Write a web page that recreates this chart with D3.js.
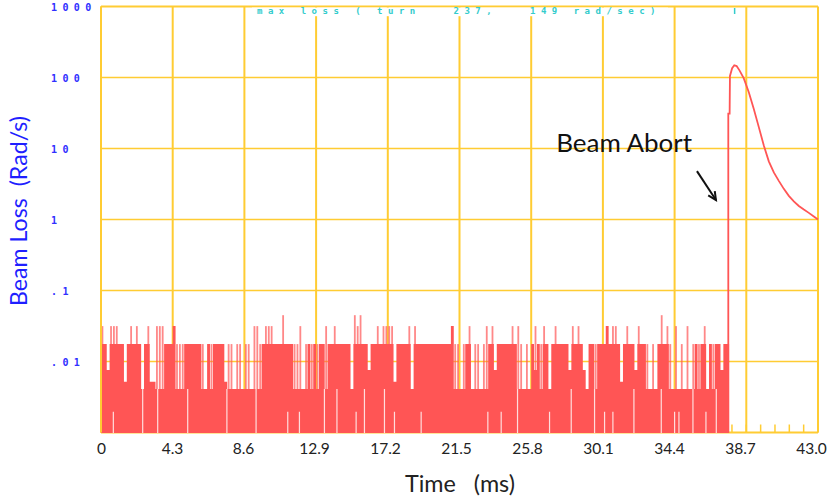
<!DOCTYPE html>
<html>
<head>
<meta charset="utf-8">
<script src="https://cdn.jsdelivr.net/npm/d3@7"></script>
<style>
  body { margin: 0; background: #fff; }
  svg { display: block; }
</style>
</head>
<body>
<script>
var svgWidth = 831;
var svgHeight = 497;

// plot frame in pixels
var frame = { left: 101, right: 818, top: 6.5, bottom: 432.5 };

// ---- data ----
var xTickLabels = [0, 4.3, 8.6, 12.9, 17.2, 21.5, 25.8, 30.1, 34.4, 38.7, 43.0];
var yTickValues = [1000, 100, 10, 1, 0.1, 0.01];
var yTickLabels = ["1000", "100", "10", "1", ".1", ".01"];

// quantised loss levels (rad/s), index 0 = nothing
var levelValues = [0, 0.00196, 0.0041, 0.0052, 0.0076, 0.0176, 0.0315, 0.0449];
var binWidthMs = 0.172;

// level index of each bin before the abort
var lossBins = [
  5,5,4,5,5,5,5,5,3,5, 5,5,5,5,2,5,5,3,3,2, 2,2,5,5,5,6,2,2,2,5,
  5,5,5,5,5,2,2,5,2,5, 5,5,5,3,2,2,2,2,2,2, 2,2,2,2,2,2,5,5,5,5,
  5,5,5,5,5,5,5,2,2,2, 2,2,5,2,5,2,5,5,2,5, 5,5,5,5,5,5,5,2,5,5,
  5,5,5,4,5,5,5,5,5,5, 5,5,3,5,5,5,5,5,2,5, 5,5,5,5,5,5,5,5,5,5,
  5,5,6,2,2,2,2,5,5,2, 2,2,2,2,2,5,5,4,5,5, 5,5,5,5,5,2,2,2,2,2,
  5,4,5,2,5,5,2,5,5,5, 5,5,5,4,5,5,5,5,4,2, 5,5,2,5,5,5,6,5,5,5,
  5,3,5,5,5,5,4,5,5,5, 2,2,2,2,5,5,5,5,2,2, 2,2,2,2,2,2,2,5,2,5,
  5,2,5,2,5,5,4,5,5
];

// thin spikes above a bin: [bin, level]
var lossSpikes = [
  [0,6],[3,6],[4,6],[5,6],[10,6],[12,6],[16,6],[19,6],[20,6],[21,6],[26,5],[27,5],[28,5],
  [35,5],[38,5],[44,5],[45,5],[47,5],[48,5],[50,5],[51,5],[53,6],[54,6],[55,5],[57,6],[58,6],[59,6],
  [63,7],[67,5],[68,5],[69,6],[71,5],[73,5],[75,5],[78,6],[81,6],[88,7],[89,6],[90,7],[96,6],[98,6],[99,6],
  [100,6],[101,6],[107,6],[109,6],[123,5],[124,5],[126,5],[128,6],[130,5],[131,5],[133,5],[134,6],[136,6],
  [143,6],[145,6],[146,5],[148,5],[151,6],[153,5],[154,6],[158,6],[164,6],[166,6],[172,5],[178,6],[179,6],
  [183,6],[187,6],[190,5],[192,5],[195,7],[197,6],[198,5],[200,6],[202,5],[204,6],[206,5],
  [208,5],[210,6],[213,5]
];

// thin gaps from the floor: [time ms, level]
var lossNotches = [
  [0.74,1],[2.5,2],[3.4,2],[5.2,2],[7.55,2],[9.3,2],[11.2,1],[11.9,1],[13.4,2],[14.15,2],
  [15.3,1],[15.8,2],[17.0,2],[17.6,1],[19.2,1],[23.2,1],[24.0,1],[24.98,2],[26.9,1],[28.2,2],
  [29.6,2],[30.2,1],[30.7,1],[31.96,2],[33.6,2],[34.4,1],[34.66,1],[35.5,2],[36.28,1],[36.9,2]
];

// loss trace at and after the abort
var abortTimes = [37.62, 37.62, 37.70, 37.72, 37.85, 37.98, 38.12, 38.30, 38.55, 38.85, 39.15, 39.45,
  39.75, 40.05, 40.35, 40.65, 40.95, 41.25, 41.55, 41.85, 42.15, 42.45, 42.75, 43.0];
var abortLoss = [0.001, 31, 31, 105, 135, 149, 145, 125, 97, 62, 36, 20,
  11, 6.6, 4.6, 3.5, 2.7, 2.15, 1.8, 1.55, 1.38, 1.24, 1.1, 1.0];

var peakTime = 38.0;

// ---- scales ----
var x = d3.scaleLinear().domain([0, 43]).range([frame.left, frame.right]);
var xLabel = d3.scaleLinear().domain([0, 43]).range([101, 811]);
var y = d3.scaleLog().domain([0.001, 1000]).range([frame.bottom, frame.top]);

var grid = "#ffcc33";
var red = "#ff5555";
var sans = "Lato, 'Open Sans', sans-serif";

var svg = d3.select("body").append("svg")
  .attr("width", svgWidth)
  .attr("height", svgHeight);

// grid lines
svg.append("g").selectAll("line")
  .data(xTickLabels)
  .enter().append("line")
  .attr("x1", function (d) { return x(d); })
  .attr("x2", function (d) { return x(d); })
  .attr("y1", frame.top)
  .attr("y2", frame.bottom)
  .attr("stroke", grid)
  .attr("stroke-width", 2);

svg.append("g").selectAll("line")
  .data(yTickValues)
  .enter().append("line")
  .attr("x1", frame.left)
  .attr("x2", frame.right)
  .attr("y1", function (d) { return y(d); })
  .attr("y2", function (d) { return y(d); })
  .attr("stroke", grid)
  .attr("stroke-width", function (d) { return d === 1000 ? 2 : 1.5; });

// bottom line and minor ticks
svg.append("line")
  .attr("x1", frame.left).attr("x2", frame.right)
  .attr("y1", frame.bottom).attr("y2", frame.bottom)
  .attr("stroke", grid).attr("stroke-width", 2);

svg.append("g").selectAll("line")
  .data(d3.range(0, 51).map(function (i) { return i * 0.86; }))
  .enter().append("line")
  .attr("x1", function (d) { return x(d); })
  .attr("x2", function (d) { return x(d); })
  .attr("y1", frame.bottom)
  .attr("y2", frame.bottom - 8)
  .attr("stroke", grid)
  .attr("stroke-width", 1.5);

// white box behind the header text
svg.append("rect")
  .attr("x", 252).attr("y", 7.6)
  .attr("width", 416).attr("height", 8.6)
  .attr("fill", "#fff");

// noise bins as one stepped area (no seams)
var binArea = d3.area()
  .curve(d3.curveStepAfter)
  .x(function (d, i) { return x(i * binWidthMs); })
  .y0(frame.bottom + 0.5)
  .y1(function (d) { return d ? y(levelValues[d]) : frame.bottom + 0.5; });

var bars = svg.append("g");
bars.append("path")
  .attr("d", binArea(lossBins.concat([lossBins[lossBins.length - 1]])))
  .attr("fill", red);

bars.selectAll("rect.spike")
  .data(lossSpikes)
  .enter().append("rect")
  .attr("class", "spike")
  .attr("x", function (d) { return x((d[0] + 0.5) * binWidthMs) - 0.9; })
  .attr("width", 1.8)
  .attr("y", function (d) { return y(levelValues[d[1]]); })
  .attr("height", function (d) { return y(levelValues[lossBins[d[0]]]) - y(levelValues[d[1]]) + 0.5; })
  .attr("fill", red)
  .attr("fill-opacity", 0.7);

bars.selectAll("rect.notch")
  .data(lossNotches)
  .enter().append("rect")
  .attr("class", "notch")
  .attr("x", function (d) { return x(d[0]) - 0.6; })
  .attr("width", 1.2)
  .attr("y", function (d) { return y(levelValues[d[1]]); })
  .attr("height", function (d) { return frame.bottom + 0.5 - y(levelValues[d[1]]); })
  .attr("fill", "#fff")
  .attr("fill-opacity", 0.8);

// abort trace
var abortLine = d3.line()
  .x(function (d, i) { return x(abortTimes[i]); })
  .y(function (d) { return y(d); });

svg.append("path")
  .attr("d", abortLine(abortLoss))
  .attr("fill", "none")
  .attr("stroke", red)
  .attr("stroke-width", 1.8);

// left border on top
svg.append("line")
  .attr("x1", frame.left).attr("x2", frame.left)
  .attr("y1", frame.top).attr("y2", frame.bottom)
  .attr("stroke", grid).attr("stroke-width", 2);

// header text
svg.append("text")
  .attr("x", 257).attr("y", 14)
  .style("font-family", "'DejaVu Sans Mono', monospace")
  .style("font-weight", "bold")
  .style("font-size", "9px")
  .style("letter-spacing", "5.5px")
  .style("white-space", "pre")
  .attr("fill", "#33cccc")
  .text("max loss ( turn   237,   149 rad/sec)");

svg.append("line")
  .attr("x1", x(peakTime)).attr("x2", x(peakTime))
  .attr("y1", 8).attr("y2", 14)
  .attr("stroke", "#33cccc").attr("stroke-width", 1.5);

// y tick labels
svg.append("g").selectAll("text")
  .data(yTickValues)
  .enter().append("text")
  .attr("x", 51)
  .attr("y", function (d) { return y(d) + 4; })
  .style("font-family", "'DejaVu Sans Mono', monospace")
  .style("font-weight", "bold")
  .style("font-size", "10px")
  .style("letter-spacing", "5.4px")
  .attr("fill", "#3030ff")
  .text(function (d, i) { return yTickLabels[i]; });

// x tick labels
var bottomAxis = d3.axisBottom(xLabel)
  .tickValues(xTickLabels)
  .tickSize(0)
  .tickFormat(function (d) { return d === 0 ? "0" : d.toFixed(1); });

var xAxisG = svg.append("g")
  .attr("transform", "translate(0,440)")
  .call(bottomAxis);
xAxisG.select(".domain").remove();
xAxisG.selectAll("text")
  .style("font-family", sans)
  .style("font-size", "15.5px")
  .attr("fill", "#222");

// fit a text node to a target width
function fitText(sel, width) {
  var w = sel.node().getComputedTextLength();
  var fs = parseFloat(sel.style("font-size"));
  sel.style("font-size", (fs * width / w) + "px");
}

// axis titles
var yTitle = svg.append("text")
  .attr("transform", "translate(27,211) rotate(-90)")
  .attr("text-anchor", "middle")
  .style("font-family", sans)
  .style("font-size", "20px")
  .style("white-space", "pre")
  .attr("fill", "#1f1fff")
  .text("Beam Loss  (Rad/s)");
fitText(yTitle, 190);

var xTitle = svg.append("text")
  .attr("x", 460).attr("y", 492)
  .attr("text-anchor", "middle")
  .style("font-family", sans)
  .style("font-size", "22px")
  .style("white-space", "pre")
  .attr("fill", "#222")
  .text("Time   (ms)");
fitText(xTitle, 110);

// annotation
var note = svg.append("text")
  .attr("x", x(27.3)).attr("y", 152)
  .style("font-family", sans)
  .style("font-size", "22px")
  .attr("fill", "#111")
  .text("Beam Abort");
fitText(note, 136);

var ax0 = x(35.74), ay0 = y(4.8), ax1 = x(36.88), ay1 = y(1.88);
svg.append("line")
  .attr("x1", ax0).attr("y1", ay0).attr("x2", ax1).attr("y2", ay1)
  .attr("stroke", "#111").attr("stroke-width", 2);
var ang = Math.atan2(ay1 - ay0, ax1 - ax0);
var head = 9;
svg.append("path")
  .attr("d", "M" + (ax1 - head * Math.cos(ang - 0.45)) + "," + (ay1 - head * Math.sin(ang - 0.45)) +
    "L" + ax1 + "," + ay1 +
    "L" + (ax1 - head * Math.cos(ang + 0.45)) + "," + (ay1 - head * Math.sin(ang + 0.45)))
  .attr("fill", "none")
  .attr("stroke", "#111")
  .attr("stroke-width", 2);
</script>
</body>
</html>
